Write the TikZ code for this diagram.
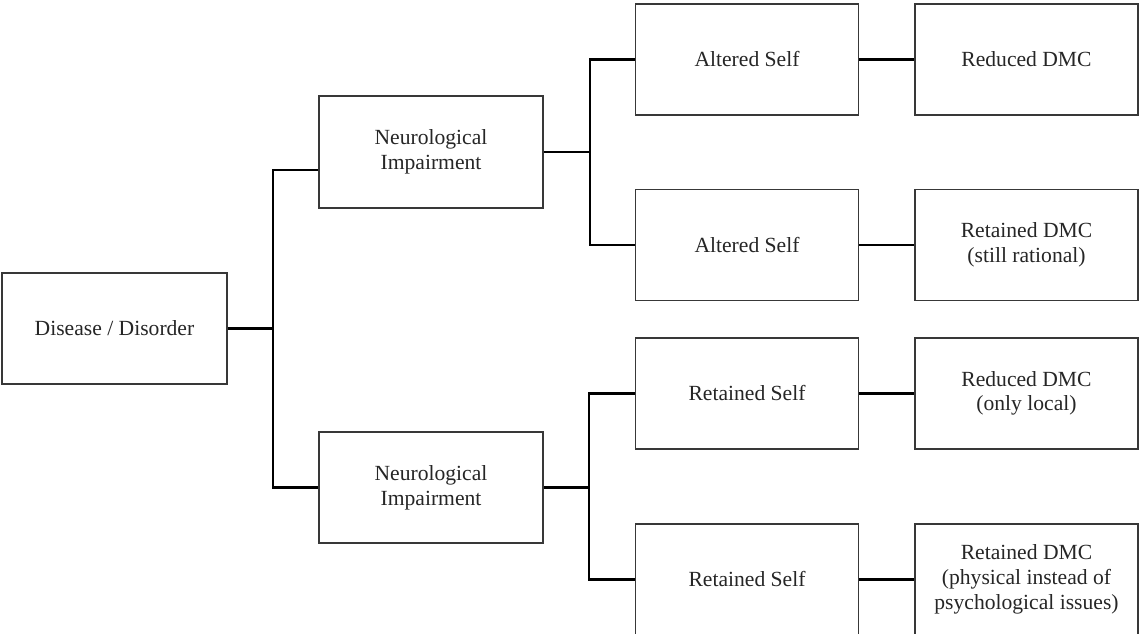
\documentclass[tikz,border=0pt]{standalone}
\usepackage{fontspec}
\setmainfont{Liberation Serif}
\usetikzlibrary{calc}
\begin{document}
\begin{tikzpicture}[x=0.75pt,y=-0.75pt,
  box/.style={draw=black!78,line width=1.1pt,fill=white,minimum width=167pt,minimum height=83pt,
    inner sep=0pt,align=center,text=black!85,font=\fontsize{16.2}{18.5}\selectfont},
  conn/.style={draw=black,line width=2.2pt,line join=miter}]
\useasboundingbox (0,0) rectangle (1140,634);
\clip (0,0) rectangle (1140,634);
\fill[white] (0,0) rectangle (1140,634);
% nodes
\node[box,minimum width=169pt] (dis) at (114.5,328.5) {Disease / Disorder};
\node[box,minimum width=168pt,minimum height=84pt] (n1) at (431,152) {Neurological\\Impairment};
\node[box,minimum width=168pt] (n2) at (431,487.5) {Neurological\\Impairment};
\node[box] (a1) at (747,59.5) {Altered Self};
\node[box] (a2) at (747,245) {Altered Self};
\node[box] (r1) at (747,393.5) {Retained Self};
\node[box] (r2) at (747,579.5) {Retained Self};
\node[box] (d1) at (1026.5,59.5) {Reduced DMC};
\node[box] (d2) at (1026.5,245) {Retained DMC\\(still rational)};
\node[box] (d3) at (1026.5,393.5) {Reduced DMC\\(only local)};
\node[box] (d4) at (1026.5,579.5) {Retained DMC\\(physical instead of\\psychological issues)};
% junction points
\coordinate (t) at (273,328.5);
\coordinate (b1) at (590,152);
\coordinate (b2) at (589,487.5);
% connectors
\draw[conn] (dis.east) -- (t);
\draw[conn] ($(n1.west)+(0,18)$) -| (t) |- (n2.west);
\draw[conn] (n1.east) -- (b1);
\draw[conn] (a1.west) -| (b1) |- (a2.west);
\draw[conn] (n2.east) -- (b2);
\draw[conn] (r1.west) -| (b2) |- (r2.west);
\draw[conn] (a1.east) -- (d1.west);
\draw[conn] (a2.east) -- (d2.west);
\draw[conn] (r1.east) -- (d3.west);
\draw[conn] (r2.east) -- (d4.west);
\end{tikzpicture}
\end{document}
